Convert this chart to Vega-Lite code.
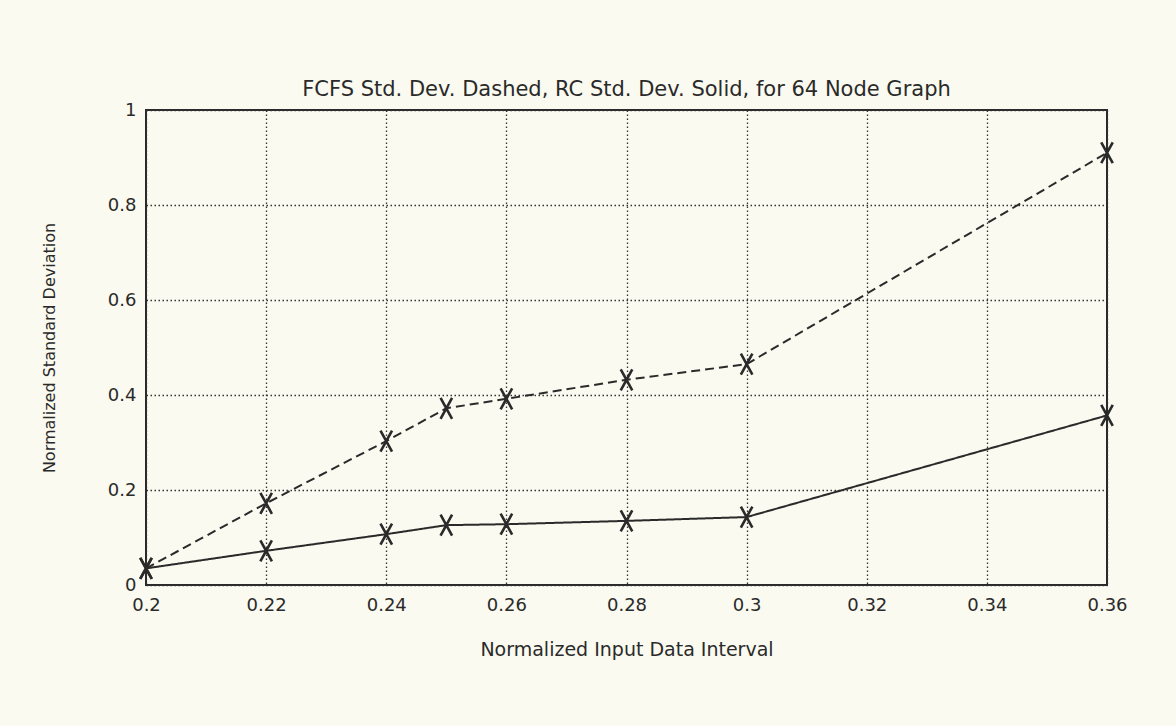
{
  "$schema": "https://vega.github.io/schema/vega-lite/v6.json",
  "width": 961,
  "height": 475,
  "autosize": "none",
  "padding": {"left": 146, "top": 110, "right": 69, "bottom": 141},
  "background": "#fafaf0",
  "title": {
    "text": "FCFS Std. Dev. Dashed, RC Std. Dev. Solid, for 64 Node Graph",
    "font": "DejaVu Sans",
    "fontSize": 21,
    "fontWeight": "normal",
    "color": "#2a2a2a",
    "anchor": "middle",
    "offset": 1
  },
  "data": {
    "values": [
      {"interval": 0.2, "series": "FCFS", "sd": 0.035},
      {"interval": 0.22, "series": "FCFS", "sd": 0.172},
      {"interval": 0.24, "series": "FCFS", "sd": 0.303},
      {"interval": 0.25, "series": "FCFS", "sd": 0.372},
      {"interval": 0.26, "series": "FCFS", "sd": 0.392},
      {"interval": 0.28, "series": "FCFS", "sd": 0.432},
      {"interval": 0.3, "series": "FCFS", "sd": 0.465},
      {"interval": 0.36, "series": "FCFS", "sd": 0.91},
      {"interval": 0.2, "series": "RC", "sd": 0.035},
      {"interval": 0.22, "series": "RC", "sd": 0.072},
      {"interval": 0.24, "series": "RC", "sd": 0.107},
      {"interval": 0.25, "series": "RC", "sd": 0.126},
      {"interval": 0.26, "series": "RC", "sd": 0.128},
      {"interval": 0.28, "series": "RC", "sd": 0.135},
      {"interval": 0.3, "series": "RC", "sd": 0.143},
      {"interval": 0.36, "series": "RC", "sd": 0.357}
    ]
  },
  "encoding": {
    "x": {
      "field": "interval",
      "type": "quantitative",
      "scale": {"domain": [0.2, 0.36], "nice": false, "zero": false},
      "axis": {
        "title": "Normalized Input Data Interval",
        "values": [0.2, 0.22, 0.24, 0.26, 0.28, 0.3, 0.32, 0.34, 0.36],
        "format": ".2~f",
        "labelPadding": 11,
        "titlePadding": 26,
        "titleFontSize": 19
      }
    },
    "y": {
      "field": "sd",
      "type": "quantitative",
      "scale": {"domain": [0, 1], "nice": false},
      "axis": {
        "title": "Normalized Standard Deviation",
        "values": [0, 0.2, 0.4, 0.6, 0.8, 1],
        "format": ".1~f",
        "labelPadding": 10,
        "titlePadding": 50,
        "titleFontSize": 16
      }
    }
  },
  "layer": [
    {
      "mark": {"type": "line", "strokeWidth": 2, "color": "#2a2a2a"},
      "encoding": {
        "strokeDash": {
          "field": "series",
          "type": "nominal",
          "scale": {"domain": ["FCFS", "RC"], "range": [[9, 5], [1, 0]]},
          "legend": null
        }
      }
    },
    {
      "mark": {
        "type": "point",
        "shape": "M-0.55,-1L0.55,1M0.55,-1L-0.55,1",
        "size": 440,
        "strokeWidth": 2.6,
        "color": "#2a2a2a",
        "filled": false,
        "opacity": 1
      },
      "encoding": {"detail": {"field": "series", "type": "nominal"}}
    }
  ],
  "config": {
    "view": {"stroke": "#2a2a2a", "strokeWidth": 2},
    "axis": {
      "domain": false,
      "ticks": false,
      "grid": true,
      "labelFlush": false,
      "gridDash": [1.5, 2.5],
      "gridColor": "#333333",
      "gridWidth": 1.3,
      "gridOpacity": 1,
      "labelFont": "DejaVu Sans",
      "labelFontSize": 18,
      "labelColor": "#2a2a2a",
      "titleFont": "DejaVu Sans",
      "titleFontSize": 18,
      "titleFontWeight": "normal",
      "titleColor": "#2a2a2a"
    }
  }
}
